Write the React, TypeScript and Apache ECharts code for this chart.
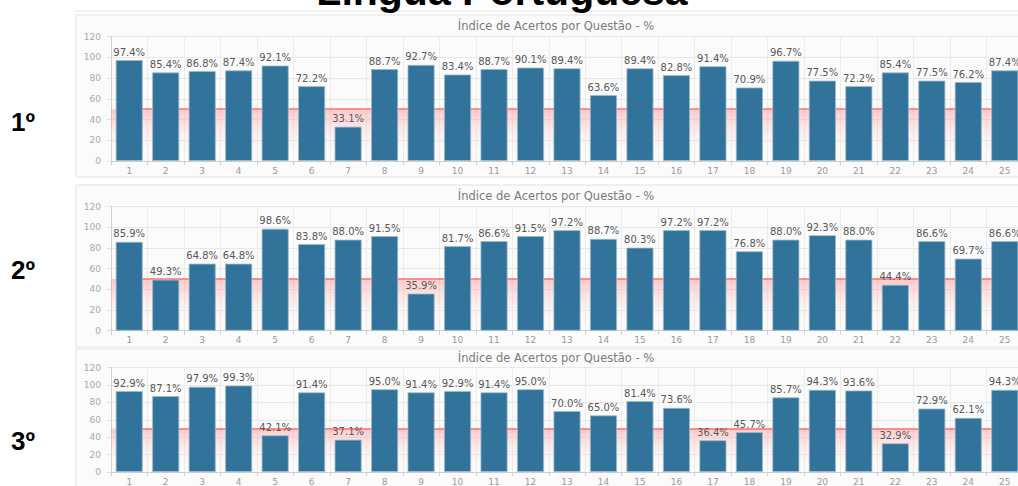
import React, { useEffect, useRef } from 'react';
import * as echarts from 'echarts';

const questions = ['1', '2', '3', '4', '5', '6', '7', '8', '9', '10', '11', '12', '13', '14', '15', '16', '17', '18', '19', '20', '21', '22', '23', '24', '25'];

const serie1 = [97.4, 85.4, 86.8, 87.4, 92.1, 72.2, 33.1, 88.7, 92.7, 83.4, 88.7, 90.1, 89.4, 63.6, 89.4, 82.8, 91.4, 70.9, 96.7, 77.5, 72.2, 85.4, 77.5, 76.2, 87.4];
const serie2 = [85.9, 49.3, 64.8, 64.8, 98.6, 83.8, 88.0, 91.5, 35.9, 81.7, 86.6, 91.5, 97.2, 88.7, 80.3, 97.2, 97.2, 76.8, 88.0, 92.3, 88.0, 44.4, 86.6, 69.7, 86.6];
const serie3 = [92.9, 87.1, 97.9, 99.3, 42.1, 91.4, 37.1, 95.0, 91.4, 92.9, 91.4, 95.0, 70.0, 65.0, 81.4, 73.6, 36.4, 45.7, 85.7, 94.3, 93.6, 32.9, 72.9, 62.1, 94.3];

const panelLabels = ['1º', '2º', '3º'];
const mainTitle = 'Língua Portuguesa';
const panelTitle = 'Índice de Acertos por Questão - %';
const threshold = 50;
const yMin = 0;
const yMax = 120;
const yStep = 20;

const seriesData = [serie1, serie2, serie3];

// layout (pixels)
const panels = [
  { boxTop: 15, boxBottom: 177, titleY: 26, gridTop: 36.6, gridBottom: 161, labelY: 122 },
  { boxTop: 185, boxBottom: 347, titleY: 195.7, gridTop: 206.6, gridBottom: 330.7, labelY: 269.5 },
  { boxTop: 349, boxBottom: 520, titleY: 358, gridTop: 367.5, gridBottom: 478.3, labelY: 441 },
];
const CHART_W = 1040;
const GRID_LEFT = 111;
const GRID_W = 912;
const BOX_LEFT = 76;
const BOX_RIGHT = 1036;

export default function App() {
  const ref = useRef<HTMLDivElement>(null);

  useEffect(() => {
    if (!ref.current) return;
    const chart = echarts.init(ref.current, undefined, { renderer: 'svg' });

    const graphic: any[] = [];
    graphic.push({
      type: 'line',
      shape: { x1: 75, y1: 11, x2: 1040, y2: 11 },
      style: { stroke: '#e6e6e6', lineWidth: 1 },
      z: 0,
    });
    panels.forEach((p, i) => {
      graphic.push({
        type: 'rect',
        shape: { x: BOX_LEFT, y: p.boxTop, width: BOX_RIGHT - BOX_LEFT, height: p.boxBottom - p.boxTop },
        style: { fill: '#fbfbfb', stroke: '#e2e2e2', lineWidth: 1 },
        z: -10,
      });
      graphic.push({
        type: 'text',
        x: (BOX_LEFT + BOX_RIGHT) / 2,
        y: p.titleY,
        style: {
          text: panelTitle,
          fontSize: 11.5,
          fontFamily: 'DejaVu Sans',
          fill: '#7a7a7a',
          align: 'center',
          verticalAlign: 'middle',
        },
      });
      graphic.push({
        type: 'text',
        x: 11,
        y: p.labelY,
        style: {
          text: panelLabels[i],
          fontSize: 26,
          fontWeight: 'bold',
          fontFamily: 'Liberation Sans',
          fill: '#000',
          align: 'left',
          verticalAlign: 'middle',
        },
      });
    });
    graphic.push({
      type: 'text',
      x: 502,
      y: -9,
      style: {
        text: mainTitle,
        fontSize: 41,
        fontWeight: 'bold',
        fontFamily: 'Liberation Sans',
        fill: '#000',
        align: 'center',
        verticalAlign: 'middle',
      },
    });

    const grids = panels.map((p) => ({
      left: GRID_LEFT,
      top: p.gridTop,
      width: GRID_W,
      height: p.gridBottom - p.gridTop,
    }));

    const xAxes = panels.map((_, i) => ({
      type: 'category',
      gridIndex: i,
      data: questions,
      axisLine: { show: true, lineStyle: { color: '#cfcfcf' } },
      axisTick: { show: true, length: 4, lineStyle: { color: '#cfcfcf' } },
      splitLine: { show: true, lineStyle: { color: '#ececec' } },
      axisLabel: { color: '#9a9a9a', fontSize: 9, fontFamily: 'DejaVu Sans', margin: 5 },
    }));

    const yAxes = panels.map((_, i) => ({
      type: 'value',
      gridIndex: i,
      min: yMin,
      max: yMax,
      interval: yStep,
      axisLine: { show: true, lineStyle: { color: '#cfcfcf' } },
      axisTick: { show: true, length: 4, lineStyle: { color: '#e0e0e0' } },
      splitLine: { show: true, lineStyle: { color: '#e8e8e8' } },
      axisLabel: { color: '#a8a8a8', fontSize: 9, fontFamily: 'DejaVu Sans', margin: 10 },
    }));

    const firstIdx = 0;
    const lastIdx = questions.length - 1;

    const series = seriesData.map((data, i) => ({
      type: 'bar',
      xAxisIndex: i,
      yAxisIndex: i,
      data,
      barWidth: 27,
      z: 2,
      itemStyle: { color: '#31739a', borderColor: '#9dbbcd', borderWidth: 0.8 },
      label: {
        show: true,
        position: 'top',
        distance: 3,
        color: '#585858',
        fontSize: 10,
        fontFamily: 'DejaVu Sans',
        formatter: (p: any) => Number(p.value).toFixed(1) + '%',
      },
      markArea: {
        silent: true,
        z: 1,
        itemStyle: {
          color: {
            type: 'linear',
            x: 0, y: 0, x2: 0, y2: 1,
            colorStops: [
              { offset: 0, color: 'rgba(255,140,140,0.45)' },
              { offset: 1, color: 'rgba(255,255,255,0)' },
            ],
          },
        },
        data: [[{ xAxis: firstIdx, yAxis: yMin }, { xAxis: lastIdx, yAxis: threshold }]],
      },
      markLine: {
        silent: true,
        z: 1,
        symbol: ['none', 'none'],
        label: { show: false },
        lineStyle: { color: '#ff7070', width: 1.5, type: 'solid' },
        data: [[{ xAxis: firstIdx, yAxis: threshold }, { xAxis: lastIdx, yAxis: threshold }]],
      },
    }));

    chart.setOption({
      animation: false,
      backgroundColor: '#ffffff',
      graphic,
      grid: grids,
      xAxis: xAxes,
      yAxis: yAxes,
      series,
    });

    return () => chart.dispose();
  }, []);

  return (
    <div style={{ position: 'fixed', left: 0, top: 0, width: 1018, height: 486, overflow: 'hidden', background: '#fff' }}>
      <div ref={ref} style={{ width: CHART_W, height: 486 }} />
    </div>
  );
}
